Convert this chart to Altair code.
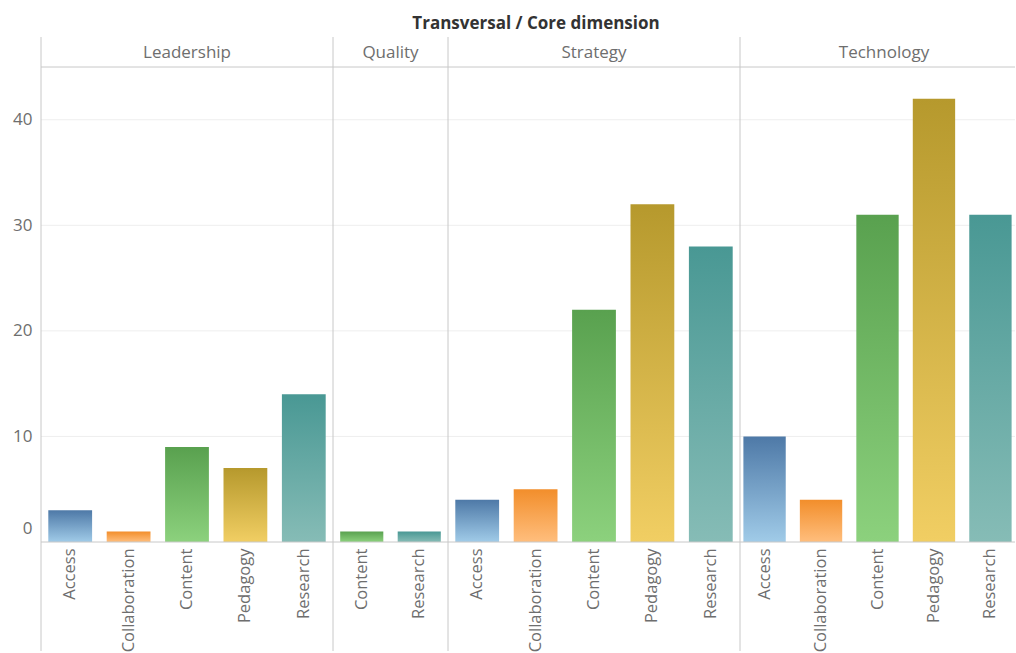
import altair as alt
import pandas as pd

# ---- data ----
chart_title = ["Transversal / Core dimension"]
dimensions = ["Leadership", "Quality", "Strategy", "Technology"]

leadership_cats = ["Access", "Collaboration", "Content", "Pedagogy", "Research"]
leadership_vals = [3, 1, 9, 7, 14]

quality_cats = ["Content", "Research"]
quality_vals = [1, 1]

strategy_cats = ["Access", "Collaboration", "Content", "Pedagogy", "Research"]
strategy_vals = [4, 5, 22, 32, 28]

technology_cats = ["Access", "Collaboration", "Content", "Pedagogy", "Research"]
technology_vals = [10, 4, 31, 42, 31]

y_ticks = [0, 10, 20, 30, 40]
grid_ticks = [10, 20, 30, 40]

# ---- styles ----
FONT = "Open Sans"
GREY = "#6e6e6e"
LINE = "#c8c8c8"
colors = {
    "Access": ("#a0cbe8", "#4e79a7"),
    "Collaboration": ("#ffbe7d", "#f28e2b"),
    "Content": ("#8cd17d", "#59a14f"),
    "Pedagogy": ("#f1ce63", "#b6992d"),
    "Research": ("#86bcb6", "#499894"),
}
HEIGHT = 475
one = pd.DataFrame({"k": [0]})


def panel(dim, cats, vals, width, header_x, outer, first):
    df = pd.DataFrame({"dim": dim, "category": cats, "count": vals})
    yscale = alt.Scale(domain=[0, 45], nice=False)
    xscale = alt.Scale(domain=cats, paddingInner=0.25, paddingOuter=outer)
    x = alt.X(
        "category:N",
        sort=cats,
        scale=xscale,
        axis=alt.Axis(
            title=None, labelAngle=-90, labelFontSize=16.5, labelColor=GREY,
            labelFont=FONT, ticks=False, domain=False, labelPadding=6,
            labelLimit=400,
        ),
    )
    if first:
        yaxis = alt.Axis(
            title=None, values=y_ticks, grid=False, ticks=False, domain=False,
            labelFontSize=17, labelColor=GREY, labelFont=FONT, labelPadding=9,
            labelFlush=True, labelFlushOffset=-5,
        )
    else:
        yaxis = None

    grid = alt.Chart(pd.DataFrame({"tick": grid_ticks})).mark_rule(
        color="#eeeeee", strokeWidth=1
    ).encode(y=alt.Y("tick:Q", scale=yscale, axis=yaxis))

    layers = [grid]
    for c in cats:
        bottom, top = colors[c]
        layers.append(
            alt.Chart(df).transform_filter(alt.datum.category == c).mark_bar(
                color=alt.Gradient(
                    gradient="linear",
                    stops=[alt.GradientStop(color=bottom, offset=0),
                           alt.GradientStop(color=top, offset=1)],
                    x1=0, x2=0, y1=1, y2=0,
                ),
            ).encode(x=x, y=alt.Y("count:Q", scale=yscale, axis=yaxis))
        )

    header = alt.Chart(pd.DataFrame({"dim": [dim]})).mark_text(
        font=FONT, fontSize=17, color=GREY, baseline="middle", align="center"
    ).encode(x=alt.value(header_x), y=alt.value(-14), text="dim:N")
    sep = alt.Chart(one).mark_rule(color=LINE, strokeWidth=1).encode(
        x=alt.value(0), y=alt.value(-30), y2=alt.value(584)
    )
    headline = alt.Chart(one).mark_rule(color=LINE, strokeWidth=1).encode(
        x=alt.value(0), x2=alt.value(width), y=alt.value(0)
    )
    baseline = alt.Chart(one).mark_rule(color=LINE, strokeWidth=1).encode(
        x=alt.value(0), x2=alt.value(width), y=alt.value(HEIGHT)
    )
    layers += [header, sep, headline, baseline]

    if first:
        title = alt.Chart(pd.DataFrame({"t": chart_title})).mark_text(
            font=FONT, fontSize=17, fontWeight="bold", color="#333333",
            baseline="middle", align="center"
        ).encode(x=alt.value(495), y=alt.value(-43), text="t:N")
        anchor = alt.Chart(one).mark_rule(opacity=0).encode(
            x=alt.value(-41), y=alt.value(-67), y2=alt.value(-60)
        )
        layers += [title, anchor]

    return alt.layer(*layers).properties(width=width, height=HEIGHT)


panels = [
    panel("Leadership", leadership_cats, leadership_vals, 292, 146, 0.125, True),
    panel("Quality", quality_cats, quality_vals, 115, 57.5, 0.125, False),
    panel("Strategy", strategy_cats, strategy_vals, 292, 146, 0.125, False),
    panel("Technology", technology_cats, technology_vals, 275, 144, 0.06, False),
]

chart = alt.hconcat(*panels, spacing=0, bounds="flush").configure_view(
    stroke=None
).properties(padding={"left": 0, "top": 0, "right": 0, "bottom": 0})

chart.save("out.html", embed_options={"renderer": "svg", "actions": False})
